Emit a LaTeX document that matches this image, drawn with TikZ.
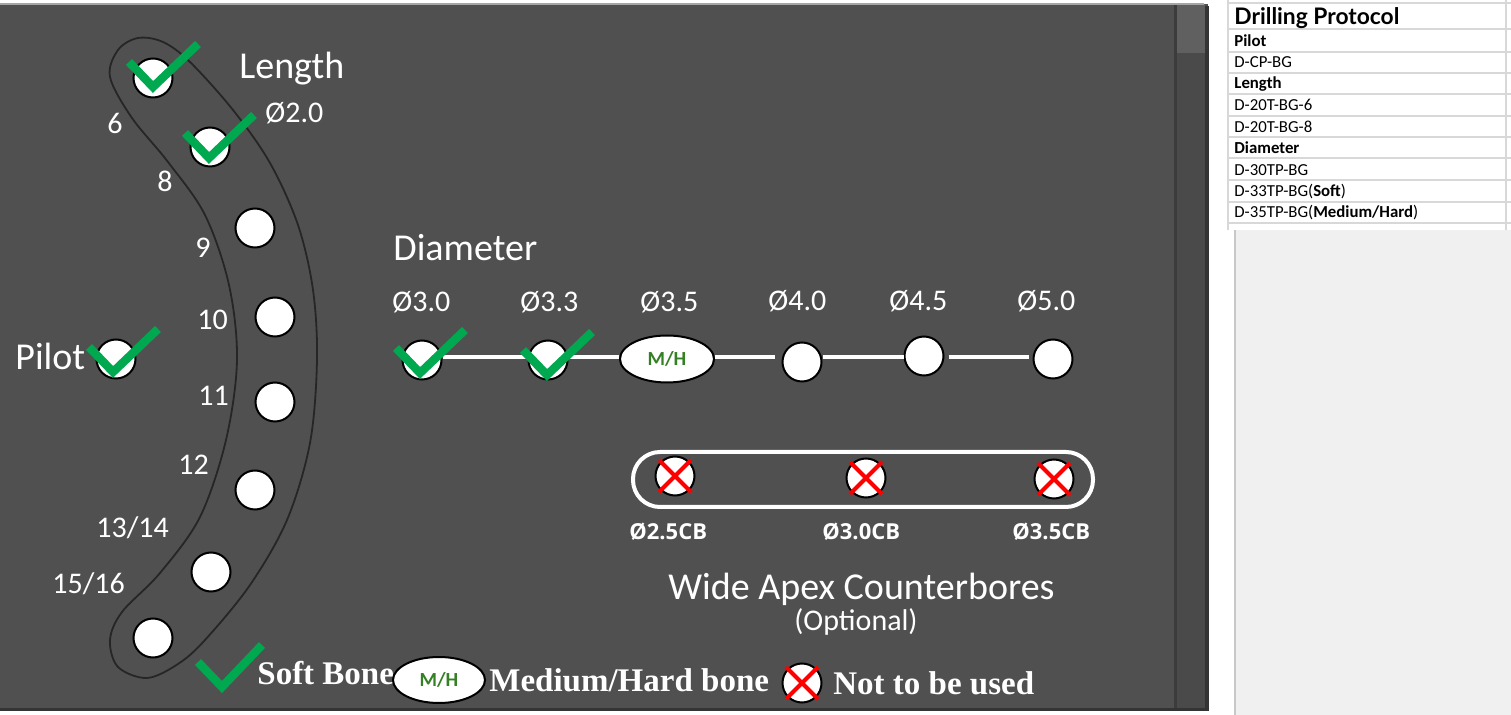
\documentclass[tikz,border=0pt]{standalone}
\usepackage{fontspec}
\setmainfont{Carlito}
\newfontfamily\osans{Open Sans}
\newfontfamily\latofont{Lato}
\newfontfamily\tnr{Liberation Serif}
\usetikzlibrary{shapes.geometric}
\definecolor{panelc}{RGB}{80,80,80}
\definecolor{darkedge}{RGB}{52,52,52}
\definecolor{sepc}{RGB}{60,60,60}
\definecolor{scrollc}{RGB}{74,74,74}
\definecolor{thumbc}{RGB}{96,96,96}
\definecolor{topedge}{RGB}{165,165,165}
\definecolor{bandc}{RGB}{38,38,38}
\definecolor{tickc}{RGB}{0,168,80}
\definecolor{mhgreen}{RGB}{52,128,36}
\definecolor{gridc}{RGB}{216,216,216}
\definecolor{boxc}{RGB}{240,240,240}
\definecolor{boxedge}{RGB}{200,200,200}
\definecolor{xred}{RGB}{255,0,0}
\begin{document}
\begin{tikzpicture}[x=0.5pt,y=-0.5pt,
  hole/.style={circle,draw=black,fill=white,line width=1pt,minimum size=19.5pt,inner sep=0pt},
  mhnode/.style={ellipse,draw=black,fill=white,line width=1pt,minimum width=47pt,minimum height=23.5pt,inner sep=0pt,text=mhgreen,font=\bfseries\fontsize{10}{10}\selectfont},
  numlbl/.style={anchor=base west,text=white,inner sep=0pt,font=\fontsize{15}{15}\selectfont},
  headlbl/.style={anchor=base west,text=white,inner sep=0pt,font=\fontsize{19}{19}\selectfont},
  cblbl/.style={anchor=base west,text=white,inner sep=0pt,font=\osans\bfseries\fontsize{11}{11}\selectfont},
  leglbl/.style={anchor=base west,text=white,inner sep=0pt,font=\tnr\bfseries\fontsize{16.5}{16.5}\selectfont},
  tabtxt/.style={anchor=base west,inner sep=0pt,font=\fontsize{8.4}{8.4}\selectfont},
  tabhead/.style={anchor=base west,inner sep=0pt,font=\bfseries\fontsize{8.4}{8.4}\selectfont},
  rail/.style={draw=white,line width=2pt},
  pics/tick/.style={code={\draw[tickc,line width=4.2pt] (-24,-25) -- (0,0) -- (45,-43);}},
  pics/smalltick/.style={code={\draw[tickc,line width=4.2pt] (-24,-25) -- (0,0) -- (40,-42);}},
  pics/cross/.style={code={\draw[xred,line width=2pt] (-16,-16) -- (16,16) (-16,16) -- (16,-16);}},
]
\useasboundingbox (0,0) rectangle (1511,715);
\fill[white] (0,0) rectangle (1511,715);
% panel
\fill[panelc] (0,4) rectangle (1208,711);
\fill[scrollc] (1177,4) rectangle (1205,708);
\fill[thumbc] (1177,4) rectangle (1205,53);
\fill[sepc] (1174,4) rectangle (1177,708);
\fill[darkedge] (1205,6) rectangle (1209,711);
\fill[darkedge] (0,708) rectangle (1209,711);
\draw[topedge,line width=1pt] (0,4) -- (1204,4);
% table
\foreach \yy in {3,29,52,73,94,116,137,158,180,202,223}
  \draw[gridc,line width=0.6pt] (1228,\yy) -- (1511,\yy);
\draw[gridc,line width=0.6pt] (1228,0) -- (1228,230);
\draw[gridc,line width=0.6pt] (1506,0) -- (1506,230);
\fill[boxc] (1235,230) rectangle (1511,715);
\draw[boxedge,line width=0.8pt] (1235,230) -- (1235,715);
\node[anchor=base west,inner sep=0pt,font=\latofont\bfseries\fontsize{11.4}{11.4}\selectfont] (ttitle) at (1234,25) {Drilling Protocol};
\node[tabhead] (t1) at (1234,47) {Pilot};
\node[tabtxt] (t2) at (1234,68) {D-CP-BG};
\node[tabhead] (t3) at (1234,89) {Length};
\node[tabtxt] (t4) at (1234,111) {D-20T-BG-6};
\node[tabtxt] (t5) at (1234,133) {D-20T-BG-8};
\node[tabhead] (t6) at (1234,154) {Diameter};
\node[tabtxt] (t7) at (1234,176) {D-30TP-BG};
\node[tabtxt] (t8) at (1234,197) {D-33TP-BG(\textbf{Soft})};
\node[tabtxt] (t9) at (1234,218) {D-35TP-BG(\textbf{Medium/Hard})};
% curved band
\draw[bandc,line width=0.9pt] plot[smooth cycle,tension=0.55] coordinates {
 (110,77) (118,50) (138,38) (163,42) (190,62) (233,110) (270,163) (298,225)
 (313,290) (317,360) (310,443) (287,520) (250,585) (205,640) (178,664)
 (147,678) (118,667) (110,640) (122,612) (160,573) (200,517) (226,440)
 (237,360) (229,285) (205,215) (168,162) (132,118)};
% length holes
\node[hole] (l1) at (153,78) {};
\node[hole] (l2) at (210,147) {};
\node[hole] (l3) at (255,228) {};
\node[hole] (l4) at (275,317) {};
\node[hole] (l5) at (275,402) {};
\node[hole] (l6) at (255,490) {};
\node[hole] (l7) at (211,572) {};
\node[hole] (l8) at (153,638) {};
\node[hole] (pilot) at (116,359) {};
\pic at (153,87) {tick};
\pic at (209,158) {tick};
\pic at (113,372) {tick};
\node[headlbl] (lenlbl) at (239,79) {Length};
\node[numlbl] (lendia) at (265,123) {Ø2.0};
\node[headlbl] (pilotlbl) at (15,370) {Pilot};
\node[numlbl] (n6) at (107,134) {6};
\node[numlbl] (n8) at (157,192) {8};
\node[numlbl] (n9) at (195,258) {9};
\node[numlbl] (n10) at (197,330) {10};
\node[numlbl] (n11) at (198,406) {11};
\node[numlbl] (n12) at (178,475) {12};
\node[numlbl] (n13) at (96,538) {13/14};
\node[numlbl] (n15) at (52,594) {15/16};
% diameter row
\node[headlbl] (diahead) at (393,261) {Diameter};
\coordinate (railY) at (0,357);
\node[hole] (d1) at (422,360) {};
\node[hole] (d2) at (548,360) {};
\node[mhnode] (mh) at (667,359) {M/H};
\node[hole] (d4) at (802,362) {};
\node[hole] (d5) at (924,356) {};
\node[hole] (d6) at (1053,359) {};
\draw[rail] (d1.east |- railY) -- (d2.west |- railY);
\draw[rail] (d2.east |- railY) -- (mh.west |- railY);
\draw[rail,shorten >=3.5pt] (mh.east |- railY) -- (d4.west |- railY);
\draw[rail] (d4.east |- railY) -- (d5.west |- railY);
\draw[rail,shorten <=2pt,shorten >=2pt] (d5.east |- railY) -- (d6.west |- railY);
\pic at (420,373) {tick};
\pic at (547,375) {tick};
\node[numlbl] (dl1) at (392,312) {Ø3.0};
\node[numlbl] (dl2) at (520,312) {Ø3.3};
\node[numlbl] (dl3) at (640,312) {Ø3.5};
\node[numlbl] (dl4) at (768,311) {Ø4.0};
\node[numlbl] (dl5) at (889,311) {Ø4.5};
\node[numlbl] (dl6) at (1017,311) {Ø5.0};
% counterbores
\node[draw=white,line width=2pt,rounded corners=13.5pt,minimum width=230pt,minimum height=27.5pt,inner sep=0pt] (cbframe) at (863,479.5) {};
\node[hole] (cb1) at (675,476) {};
\node[hole] (cb2) at (866,478) {};
\node[hole] (cb3) at (1054,479) {};
\pic at (cb1) {cross};
\pic at (cb2) {cross};
\pic at (cb3) {cross};
\node[cblbl] (cbl1) at (629,540) {Ø2.5CB};
\node[cblbl] (cbl2) at (822,540) {Ø3.0CB};
\node[cblbl] (cbl3) at (1012,540) {Ø3.5CB};
\node[headlbl] (wide) at (668,600) {Wide Apex Counterbores};
\node[numlbl] (opt) at (794,631) {(Optional)};
% legend
\pic at (222,687) {smalltick};
\node[leglbl] (soft) at (257,685) {Soft Bone};
\node[mhnode,minimum width=46pt,minimum height=23pt] (legmh) at (439,680) {M/H};
\node[leglbl] (medium) at (489,692) {Medium/Hard bone};
\node[hole] (legx) at (802,683) {};
\pic at (legx) {cross};
\node[leglbl] (notused) at (833,695) {Not to be used};
\end{tikzpicture}
\end{document}
